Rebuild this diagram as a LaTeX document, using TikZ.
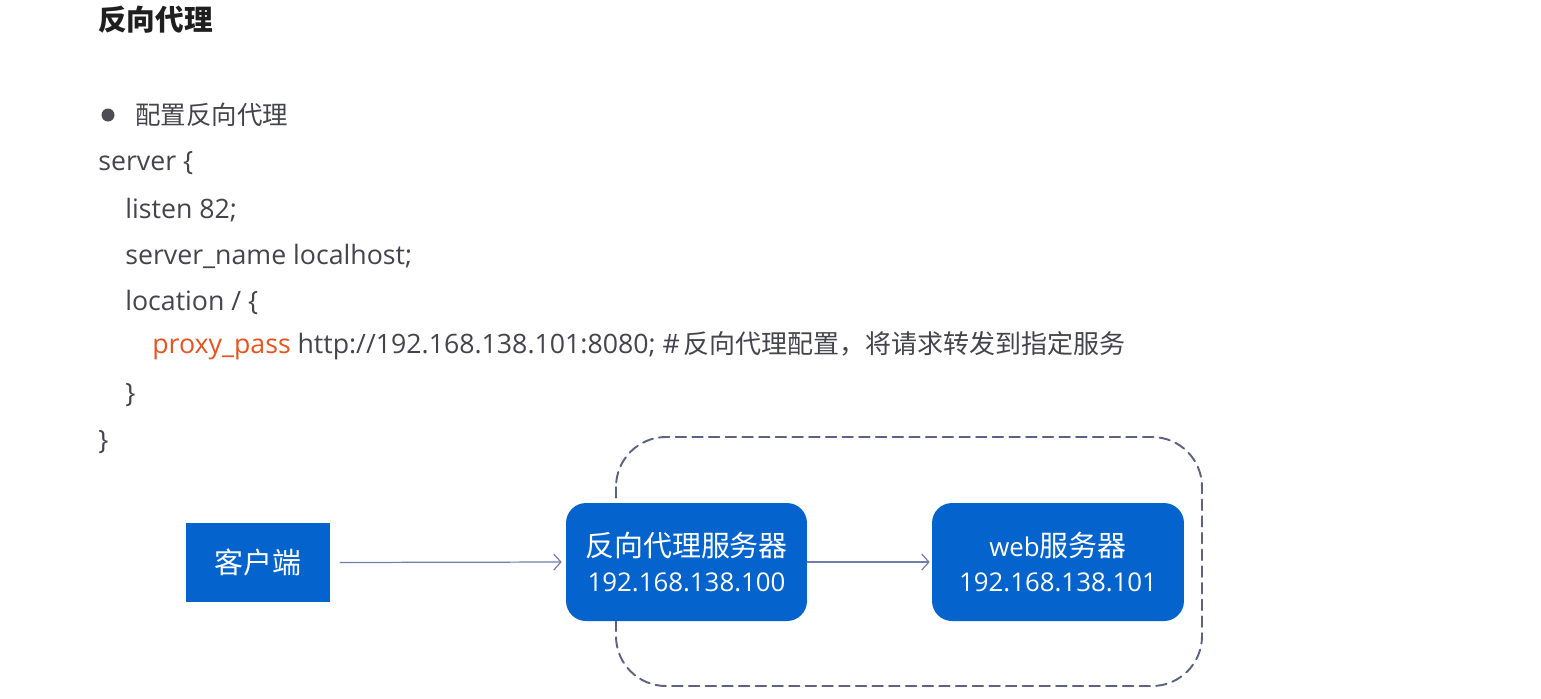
\documentclass[tikz,border=0pt]{standalone}
\usepackage{fontspec}
\setmainfont{Open Sans}
\newfontfamily\cjk{Noto Sans CJK SC}
\usetikzlibrary{arrows.meta}
\definecolor{boxblue}{RGB}{5,99,205}
\definecolor{codegray}{RGB}{68,68,76}
\definecolor{passorange}{RGB}{232,82,30}
\definecolor{linkgray}{RGB}{112,126,168}
\definecolor{groupgray}{RGB}{92,98,130}
\tikzset{
  codeline/.style={anchor=west,inner sep=0pt,text=codegray,font=\fontsize{15.2}{17}\selectfont},
  srvbox/.style={fill=boxblue,text=white,rounded corners=0.4cm,minimum height=2.36cm,align=center,inner sep=0pt,font=\fontsize{14.7}{19.5}\selectfont},
  clientbox/.style={fill=boxblue,text=white,minimum width=2.88cm,minimum height=1.58cm,inner sep=0pt,font=\cjk\fontsize{16.5}{19}\selectfont},
  link/.style={draw=linkgray,line width=0.7pt,-{Straight Barb[length=4pt,width=9pt]}},
  groupline/.style={draw=groupgray,line width=1.1pt,dash pattern=on 6pt off 3.5pt,rounded corners=1cm}
}
\begin{document}
\begin{tikzpicture}[line cap=round,line join=round,x=0.02cm,y=-0.02cm]
	\useasboundingbox (0,0) rectangle (1541,698);
	\node[anchor=west,inner sep=0pt,text=black!88,font=\cjk\bfseries\fontsize{16.3}{18}\selectfont] (title) at (98,20) {反向代理};
	\fill[codegray!95] (108,115) circle (6.5);
	\node[codeline,font=\cjk\fontsize{14.5}{16}\selectfont] (item) at (135,115) {配置反向代理};
	\node[codeline] (srv) at (98,163) {server \{};
	\node[codeline] (lsn) at (125,210) {listen 82;};
	\node[codeline] (sname) at (125,256) {server\_name localhost;};
	\node[codeline] (loc) at (125,302) {location / \{};
	\node[codeline,text=passorange] (ppass) at (152,349) {proxy\_pass};
	\node[codeline,anchor=base west] (pval) at ([xshift=0.12cm]ppass.base east) {http://192.168.138.101:8080; \#\hspace{2pt}{\cjk\fontsize{14.8}{17}\selectfont 反向代理配置，将请求转发到指定服务}};
	\node[codeline] (cl1) at (125,395) {\}};
	\node[codeline] (cl2) at (98,442) {\}};
	\draw[groupline] (616,437) rectangle (1202,686);
	\node[clientbox] (client) at (258,562.5) {客户端};
	\node[srvbox,minimum width=4.82cm] (proxy) at (686.5,562) {{\cjk\fontsize{16.5}{19.5}\selectfont 反向代理服务器}\\192.168.138.100};
	\node[srvbox,minimum width=5.04cm] (web) at (1058,562) {web{\cjk\fontsize{16.5}{19.5}\selectfont 服务器}\\192.168.138.101};
	\draw[link,shorten <=0.2cm,shorten >=0.08cm] (client.east) -- (proxy.west);
	\draw[link,shorten >=0.04cm] (proxy.east) -- (web.west);
\end{tikzpicture}
\end{document}
